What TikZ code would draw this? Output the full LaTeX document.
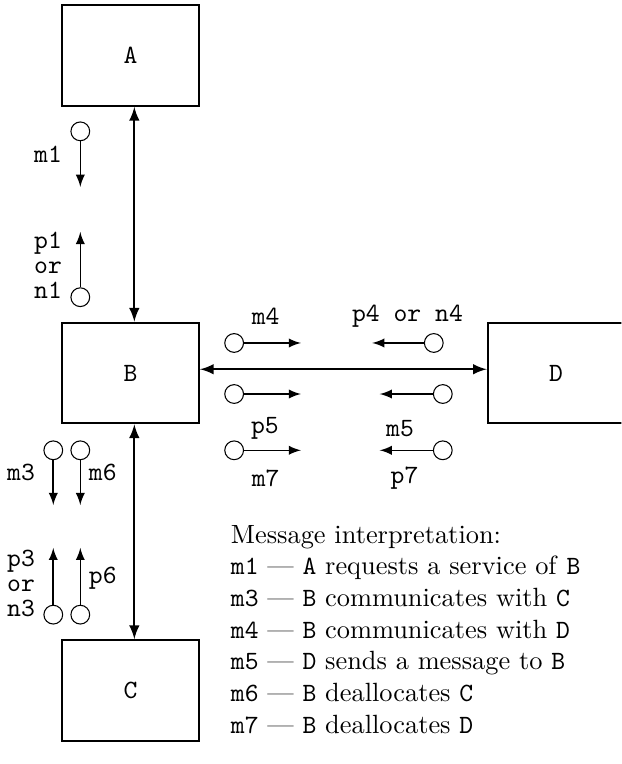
\documentclass[tikz,border=0pt]{standalone}
\usepackage{amsmath, amssymb}
\usepackage{tikz}

\begin{document}
\begin{tikzpicture}[
	>=latex,
	box/.style={rectangle, draw=black, thick, minimum width=1.82cm, minimum height=1.34cm, text centered, font=\ttfamily},
	port/.style={circle, draw=black, thin, minimum size=0.25cm, inner sep=0pt},
	msg/.style={->, semithick},
	link/.style={<->, thick},
	tag/.style={font=\ttfamily, inner sep=0pt}
	]
	
	% Marco de la figura
	\useasboundingbox (-1.74, 4.97) rectangle (6.54, -5.21);
	\clip (-1.74, 4.97) rectangle (6.54, -5.21);
	
	% Procesos
	\node[box] (A) at (0, 4.23) {A};
	\node[box] (B) at (0, 0) {B};
	\node[box] (C) at (0, -4.23) {C};
	\node[box] (D) at (5.67, 0) {D};
	
	% Canales entre procesos
	\draw[link] ([xshift=0.05cm]A.south) -- ([xshift=0.05cm]B.north);
	\draw[link] ([xshift=0.05cm]B.south) -- ([xshift=0.05cm]C.north);
	\draw[link] ([yshift=0.05cm]B.east) -- ([yshift=0.05cm]D.west);
	
	% Mensajes entre A y B
	\node[port] (m1) at (-0.67, 3.22) {};
	\coordinate (m1e) at (-0.67, 2.48);
	\draw[msg] (m1) -- (m1e);
	\node[tag] (m1t) at (-1.10, 2.92) {m1};
	\node[port] (p1) at (-0.67, 1.01) {};
	\coordinate (p1e) at (-0.67, 1.88);
	\draw[msg] (p1) -- (p1e);
	\node[tag, align=left] (p1t) at (-1.10, 1.44) {p1\\[-2.5pt]or\\[-2.5pt]n1};
	
	% Mensajes entre B y C
	\node[port] (m3) at (-1.03, -1.03) {};
	\node[port] (m6) at (-0.67, -1.03) {};
	\coordinate (m3e) at (-1.03, -1.76);
	\coordinate (m6e) at (-0.67, -1.76);
	\draw[msg] (m3) -- (m3e);
	\draw[msg] (m6) -- (m6e);
	\node[tag] (m3t) at (-1.46, -1.32) {m3};
	\node[tag] (m6t) at (-0.37, -1.32) {m6};
	\node[port] (p3) at (-1.03, -3.22) {};
	\node[port] (p6) at (-0.67, -3.22) {};
	\coordinate (p3e) at (-1.03, -2.33);
	\coordinate (p6e) at (-0.67, -2.33);
	\draw[msg] (p3) -- (p3e);
	\draw[msg] (p6) -- (p6e);
	\node[tag, align=left] (p3t) at (-1.46, -2.80) {p3\\[-2.5pt]or\\[-2.5pt]n3};
	\node[tag] (p6t) at (-0.37, -2.73) {p6};
	
	% Mensajes entre B y D
	\node[port] (m4) at (1.38, 0.40) {};
	\coordinate (m4e) at (2.27, 0.40);
	\draw[msg] (m4) -- (m4e);
	\node[tag] (m4t) at (1.80, 0.75) {m4};
	\node[port] (p4) at (4.04, 0.40) {};
	\coordinate (p4e) at (3.22, 0.40);
	\draw[msg] (p4) -- (p4e);
	\node[tag] (p4t) at (3.69, 0.75) {p4 or n4};
	
	\node[port] (p5) at (1.38, -0.28) {};
	\coordinate (p5e) at (2.27, -0.28);
	\draw[msg] (p5) -- (p5e);
	\node[tag] (p5t) at (1.79, -0.74) {p5};
	\node[port] (m5) at (4.16, -0.28) {};
	\coordinate (m5e) at (3.32, -0.28);
	\draw[msg] (m5) -- (m5e);
	\node[tag] (m5t) at (3.59, -0.74) {m5};
	
	\node[port] (m7) at (1.38, -1.03) {};
	\coordinate (m7e) at (2.27, -1.03);
	\draw[msg] (m7) -- (m7e);
	\node[tag] (m7t) at (1.80, -1.40) {m7};
	\node[port] (p7) at (4.16, -1.03) {};
	\coordinate (p7e) at (3.32, -1.03);
	\draw[msg] (p7) -- (p7e);
	\node[tag] (p7t) at (3.65, -1.40) {p7};
	
	% Leyenda
	\node[anchor=north west, align=left, inner sep=0pt] (legend) at (1.33, -2.02) {Message interpretation:\\
		\texttt{m1} --- \texttt{A} requests a service of \texttt{B}\\
		\texttt{m3} --- \texttt{B} communicates with \texttt{C}\\
		\texttt{m4} --- \texttt{B} communicates with \texttt{D}\\
		\texttt{m5} --- \texttt{D} sends a message to \texttt{B}\\
		\texttt{m6} --- \texttt{B} deallocates \texttt{C}\\
		\texttt{m7} --- \texttt{B} deallocates \texttt{D}};
	
\end{tikzpicture}
\end{document}
